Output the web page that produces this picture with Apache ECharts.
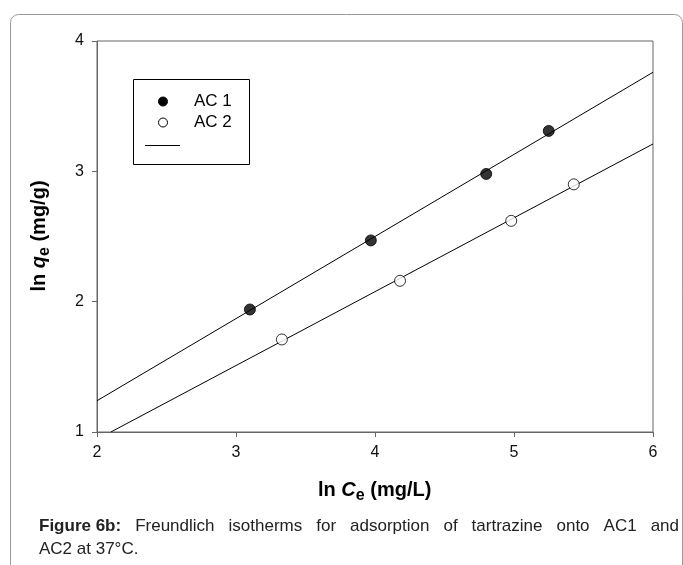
<!DOCTYPE html>
<html>
<head>
<meta charset="utf-8">
<script src="https://cdn.jsdelivr.net/npm/echarts@6/dist/echarts.min.js"></script>
<style>
html,body{margin:0;padding:0;background:#fff;}
#chart{width:683px;height:565px;}
</style>
</head>
<body>
<div id="chart"></div>
<script>
// ---- data ----
var seriesNames = ['AC 1', 'AC 2'];
var ac1Points = [[3.10, 1.94], [3.97, 2.47], [4.80, 2.98], [5.25, 3.31]];
var ac2Points = [[3.33, 1.71], [4.18, 2.16], [4.98, 2.62], [5.43, 2.90]];
var ac1Fit = [[2.0, 1.24], [6.0, 3.76]];
var ac2Fit = [[2.1, 1.0], [6.0, 3.21]];
var xTicks = [2, 3, 4, 5, 6];
var yTicks = [1, 2, 3, 4];
var captionBold = 'Figure 6b:';
var captionLine1 = 'Freundlich isotherms for adsorption of tartrazine onto AC1 and';
var captionLine2 = 'AC2 at 37°C.';

var FONT = '"Liberation Sans", Arial, sans-serif';
var chart = echarts.init(document.getElementById('chart'), null, {renderer: 'canvas'});

var gridL = 97, gridT = 41, gridW = 556, gridH = 391;

// justified caption line 1
var ctx = document.createElement('canvas').getContext('2d');
var capSize = 17;
function measure(t, bold) {
  ctx.font = (bold ? 'bold ' : '') + capSize + 'px ' + FONT;
  return ctx.measureText(t).width;
}
var capLeft = 39, capRight = 679, capY1 = 526, capY2 = 549;
var words = [{t: captionBold, b: true}].concat(captionLine1.split(' ').map(function (w) { return {t: w, b: false}; }));
var totalW = 0;
words.forEach(function (w) { w.w = measure(w.t, w.b); totalW += w.w; });
var gap = (capRight - capLeft - totalW) / (words.length - 1);
var capEls = [];
var cx = capLeft;
words.forEach(function (w) {
  capEls.push({type: 'text', x: cx, y: capY1, style: {text: w.t, font: (w.b ? 'bold ' : '') + capSize + 'px ' + FONT,
    fill: '#222', verticalAlign: 'middle'}});
  cx += w.w + gap;
});
capEls.push({type: 'text', x: capLeft, y: capY2,
  style: {text: captionLine2, font: capSize + 'px ' + FONT, fill: '#222', verticalAlign: 'middle'}});

var titleRich = {
  a: {font: 'bold 20px ' + FONT, fill: '#000', lineHeight: 28},
  i: {font: 'italic bold 20px ' + FONT, fill: '#000', lineHeight: 28},
  s: {font: 'bold 16px ' + FONT, fill: '#000', lineHeight: 28, verticalAlign: 'bottom'}
};

var option = {
  backgroundColor: '#fff',
  animation: false,
  grid: {left: gridL, top: gridT, width: gridW, height: gridH, show: true, borderColor: '#666', borderWidth: 1, backgroundColor: 'transparent'},
  xAxis: {
    type: 'value', min: xTicks[0], max: xTicks[xTicks.length - 1], interval: 1,
    axisLine: {show: true, onZero: false, lineStyle: {color: '#666', width: 1}},
    axisTick: {show: true, inside: false, length: 5, lineStyle: {color: '#666'}},
    axisLabel: {color: '#111', fontSize: 16, fontFamily: FONT, margin: 13},
    splitLine: {show: false}
  },
  yAxis: {
    type: 'value', min: yTicks[0], max: yTicks[yTicks.length - 1], interval: 1,
    axisLine: {show: true, onZero: false, lineStyle: {color: '#666', width: 1}},
    axisTick: {show: true, inside: false, length: 5, lineStyle: {color: '#666'}},
    axisLabel: {color: '#111', fontSize: 16, fontFamily: FONT, margin: 13},
    splitLine: {show: false}
  },
  series: [
    {name: seriesNames[0] + ' fit', type: 'line', data: ac1Fit, symbol: 'none', lineStyle: {color: '#000', width: 1}, z: 2},
    {name: seriesNames[1] + ' fit', type: 'line', data: ac2Fit, symbol: 'none', lineStyle: {color: '#000', width: 1}, z: 2},
    {name: seriesNames[0], type: 'scatter', data: ac1Points, symbol: 'circle', symbolSize: 11,
      itemStyle: {color: '#000', borderColor: '#000', borderWidth: 1}, z: 3},
    {name: seriesNames[1], type: 'scatter', data: ac2Points, symbol: 'circle', symbolSize: 11,
      itemStyle: {color: '#fff', borderColor: '#000', borderWidth: 1}, z: 3}
  ],
  graphic: [
    {type: 'rect', shape: {x: 10.5, y: 14.5, width: 672, height: 620, r: 8},
      style: {fill: 'none', stroke: '#999', lineWidth: 1}, z: -1},
    {type: 'rect', shape: {x: 133.5, y: 79.5, width: 116, height: 85},
      style: {fill: '#fff', stroke: '#000', lineWidth: 1}, z: 5},
    {type: 'circle', shape: {cx: 163, cy: 101.5, r: 4.5}, style: {fill: '#000', stroke: '#000'}, z: 6},
    {type: 'text', x: 194, y: 101.5, style: {text: seriesNames[0], font: '17px ' + FONT, fill: '#000', verticalAlign: 'middle'}, z: 6},
    {type: 'circle', shape: {cx: 163, cy: 122.5, r: 4.5}, style: {fill: '#fff', stroke: '#000', lineWidth: 1}, z: 6},
    {type: 'text', x: 194, y: 122.5, style: {text: seriesNames[1], font: '17px ' + FONT, fill: '#000', verticalAlign: 'middle'}, z: 6},
    {type: 'line', shape: {x1: 145, y1: 145.5, x2: 180, y2: 145.5}, style: {stroke: '#000', lineWidth: 1}, z: 6},
    {type: 'text', x: 374.7, y: 490, style: {
      text: '{a|ln }{i|C}{s|e}{a| (mg/L)}', align: 'center', verticalAlign: 'middle', rich: titleRich}},
    {type: 'text', x: 39, y: 236, rotation: Math.PI / 2, style: {
      text: '{a|ln }{i|q}{s|e}{a| (mg/g)}', align: 'center', verticalAlign: 'middle', rich: titleRich}}
  ].concat(capEls)
};
chart.setOption(option);
</script>
</body>
</html>
